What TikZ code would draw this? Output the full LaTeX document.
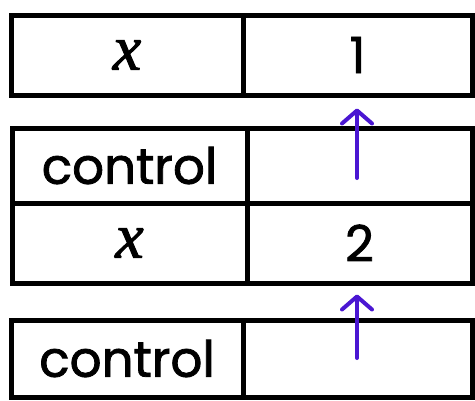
\documentclass[tikz,border=0pt]{standalone}
\usepackage{fontspec}
\setmainfont{Poppins}
\newfontfamily\handfont{Poppins}[FakeBold=1.6]
\newfontfamily\varfont{Liberation Serif}[FakeBold=1.6]
\usetikzlibrary{arrows.meta}
\definecolor{penblue}{HTML}{4A16D2}
\tikzset{
  cell/.style={draw=black, line width=5pt, rectangle, inner sep=0pt,
    minimum height=#1, font=\fontsize{50}{54}\selectfont\handfont},
  cell/.default=80pt,
  bigvar/.style={font=\fontsize{64}{68}\selectfont\varfont\itshape},
  link/.style={draw=penblue, line width=4pt, line cap=round,
    -{Straight Barb[length=13pt,width=30pt,line width=4pt,round]}},
}
\begin{document}
\begin{tikzpicture}[x=1pt,y=-1pt]
\useasboundingbox (0,0) rectangle (475,400);
% frame 1: x = 1
\node[cell, bigvar, minimum width=232pt] (k1) at (127,55) {x};
\node[cell, minimum width=229pt] (v1) at (357.5,55) {1};
% frame 2: control, x = 2
\node[cell=75pt, minimum width=235pt] (c2) at (129.5,165.5) {control};
\node[cell=75pt, minimum width=225pt] (e2) at (359.5,165.5) {};
\node[cell, bigvar, minimum width=235pt] (k2) at (129.5,243) {x};
\node[cell, minimum width=225pt] (v2) at (359.5,243) {2};
% frame 3: control
\node[cell=77pt, minimum width=232pt] (c3) at (127,358.5) {control};
\node[cell=77pt, minimum width=229pt] (e3) at (357.5,358.5) {};
% control links
\coordinate (t2) at (357,178);
\coordinate (t3) at (357,358);
\draw[link, shorten >=11pt] (t2) -- (t2 |- v1.south);
\draw[link, shorten >=9pt] (t3) -- (t3 |- v2.south);
\end{tikzpicture}
\end{document}
